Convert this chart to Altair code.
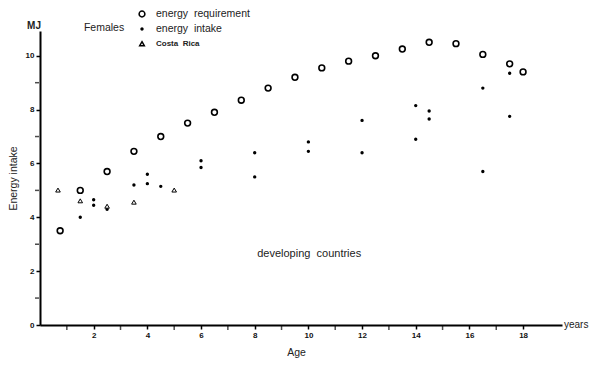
import altair as alt
import pandas as pd

# energy requirement (open circles)
req_age = [0.75, 1.5, 2.5, 3.5, 4.5, 5.5, 6.5, 7.5, 8.5, 9.5, 10.5, 11.5, 12.5, 13.5, 14.5, 15.5, 16.5, 17.5, 18.0]
req_mj = [3.5, 5.0, 5.7, 6.45, 7.0, 7.5, 7.9, 8.35, 8.8, 9.2, 9.55, 9.8, 10.0, 10.25, 10.5, 10.45, 10.05, 9.7, 9.4]
# energy intake (dots)
int_age = [1.5, 2, 2, 2.5, 3.5, 4, 4, 4.5, 6, 6, 8, 8, 10, 10, 12, 12, 14, 14, 14.5, 14.5, 16.5, 16.5, 17.5, 17.5]
int_mj = [4.0, 4.65, 4.45, 4.3, 5.2, 5.6, 5.25, 5.15, 6.1, 5.85, 6.4, 5.5, 6.8, 6.45, 7.6, 6.4, 8.15, 6.9, 7.95, 7.65, 8.8, 5.7, 9.35, 7.75]
# Costa Rica (triangles)
cr_age = [0.67, 1.5, 2.5, 3.5, 5.0]
cr_mj = [5.0, 4.6, 4.4, 4.55, 5.0]

series = ["energy\u00a0\u00a0requirement", "energy\u00a0\u00a0intake", "Costa\u00a0\u00a0Rica"]
x_major = [2, 4, 6, 8, 10, 12, 14, 16, 18]
x_minor = [1, 3, 5, 7, 9, 11, 13, 15, 17]
y_major = [0, 2, 4, 6, 8, 10]
y_minor = [1, 3, 5, 7, 9]

rows = []
for a, v in zip(req_age, req_mj):
    rows.append({"age": a, "mj": v, "series": series[0]})
for a, v in zip(int_age, int_mj):
    rows.append({"age": a, "mj": v, "series": series[1]})
for a, v in zip(cr_age, cr_mj):
    rows.append({"age": a, "mj": v, "series": series[2]})
df = pd.DataFrame(rows)

FONT = "Liberation Sans"
W, H = 522, 294

# symbol outlines (unit box, scaled by sqrt(size)/2)
ring = "M -0.58 0 A 0.58 0.58 0 1 0 0.58 0 A 0.58 0.58 0 1 0 -0.58 0 Z"
dot = "M -0.18 0 A 0.18 0.18 0 1 0 0.18 0 A 0.18 0.18 0 1 0 -0.18 0 Z"
tri = "M 0 -0.46 L 0.46 0.33 L -0.46 0.33 Z"

xs = alt.Scale(domain=[0, 19.45], nice=False, zero=False)
ys = alt.Scale(domain=[0, 10.92], nice=False, zero=False)

enc = dict(
    x=alt.X("age:Q", scale=xs, axis=alt.Axis(
        values=x_major, labelOverlap=False, labelFlush=False,
        title="Age", titleX=256, titleY=27, titleAlign="center", titleBaseline="middle",
        titleFontSize=10.5, titleFontWeight="normal")),
    y=alt.Y("mj:Q", scale=ys, axis=alt.Axis(
        values=y_major, labelOverlap=False, labelFlush=False,
        title="Energy intake", titleX=-27, titleY=147, titleAlign="center", titleBaseline="middle",
        titleAngle=-90, titleFontSize=10.5, titleFontWeight="normal")),
    shape=alt.Shape("series:N", scale=alt.Scale(domain=series, range=[ring, dot, tri]),
                    legend=alt.Legend(title=None, orient="none", legendX=96, legendY=-23,
                                      labelFont=FONT, labelColor="#222",
                                      labelFontSize={"expr": "datum.index == 2 ? 8 : 10.5"},
                                      labelFontWeight={"expr": "datum.index == 2 ? 'bold' : 'normal'"},
                                      rowPadding=3, symbolOffset=0, labelOffset=8,
                                      symbolStrokeColor="black", symbolStrokeWidth=1.5,
                                      symbolSize=100)),
    fill=alt.Fill("series:N", scale=alt.Scale(domain=series, range=["white", "black", "white"]),
                  legend=alt.Legend(title=None)),
    stroke=alt.Stroke("series:N", scale=alt.Scale(domain=series, range=["black", "black", "black"]),
                      legend=alt.Legend(title=None)),
)

base = alt.Chart(df)
circles = base.transform_filter(alt.datum.series != series[2]).mark_point(
    filled=True, strokeWidth=1.6, size=100, opacity=1).encode(**enc)
tris = base.transform_filter(alt.datum.series == series[2]).mark_point(
    filled=True, strokeWidth=1.0, size=100, opacity=1).encode(**enc)

xminor = alt.Chart(pd.DataFrame({"t": x_minor})).mark_tick(
    orient="vertical", size=4, thickness=1.5, color="black").encode(
    x=alt.X("t:Q", scale=xs), y=alt.value(H + 3))
yminor = alt.Chart(pd.DataFrame({"t": y_minor})).mark_tick(
    orient="horizontal", size=4, thickness=1.5, color="black").encode(
    y=alt.Y("t:Q", scale=ys), x=alt.value(-3))

ann = pd.DataFrame({"age": [10.03], "mj": [2.62], "txt": ["developing\u00a0\u00a0countries"]})
dev = alt.Chart(ann).mark_text(font=FONT, fontSize=11, color="#222").encode(
    x=alt.X("age:Q", scale=xs), y=alt.Y("mj:Q", scale=ys), text="txt:N")

mj = alt.Chart(ann).mark_text(font=FONT, fontSize=10, fontWeight="bold", color="#222", align="center").encode(
    x=alt.value(-6), y=alt.value(-5), text=alt.value("MJ"))
years = alt.Chart(ann).mark_text(font=FONT, fontSize=10, color="#222", align="left").encode(
    x=alt.value(524), y=alt.value(294), text=alt.value("years"))
females = alt.Chart(ann).mark_text(font=FONT, fontSize=10.5, color="#222", align="center").encode(
    x=alt.value(64), y=alt.value(-3), text=alt.value("Females"))

chart = alt.layer(circles, tris, xminor, yminor, dev, mj, years, females).properties(
    width=W, height=H,
    autosize=alt.AutoSizeParams(type="none"),
    padding={"left": 32, "top": 23, "right": 30, "bottom": 33},
).configure_view(stroke=None).configure_axis(
    grid=False, domainColor="black", domainWidth=2, tickColor="black", tickWidth=1.5,
    tickSize=4, labelFont=FONT, labelFontSize=8, labelFontWeight="bold", labelColor="#111",
    titleFont=FONT, titleColor="#222", labelPadding=2,
)

chart.save("out.html", embed_options={"renderer": "svg", "actions": False})
